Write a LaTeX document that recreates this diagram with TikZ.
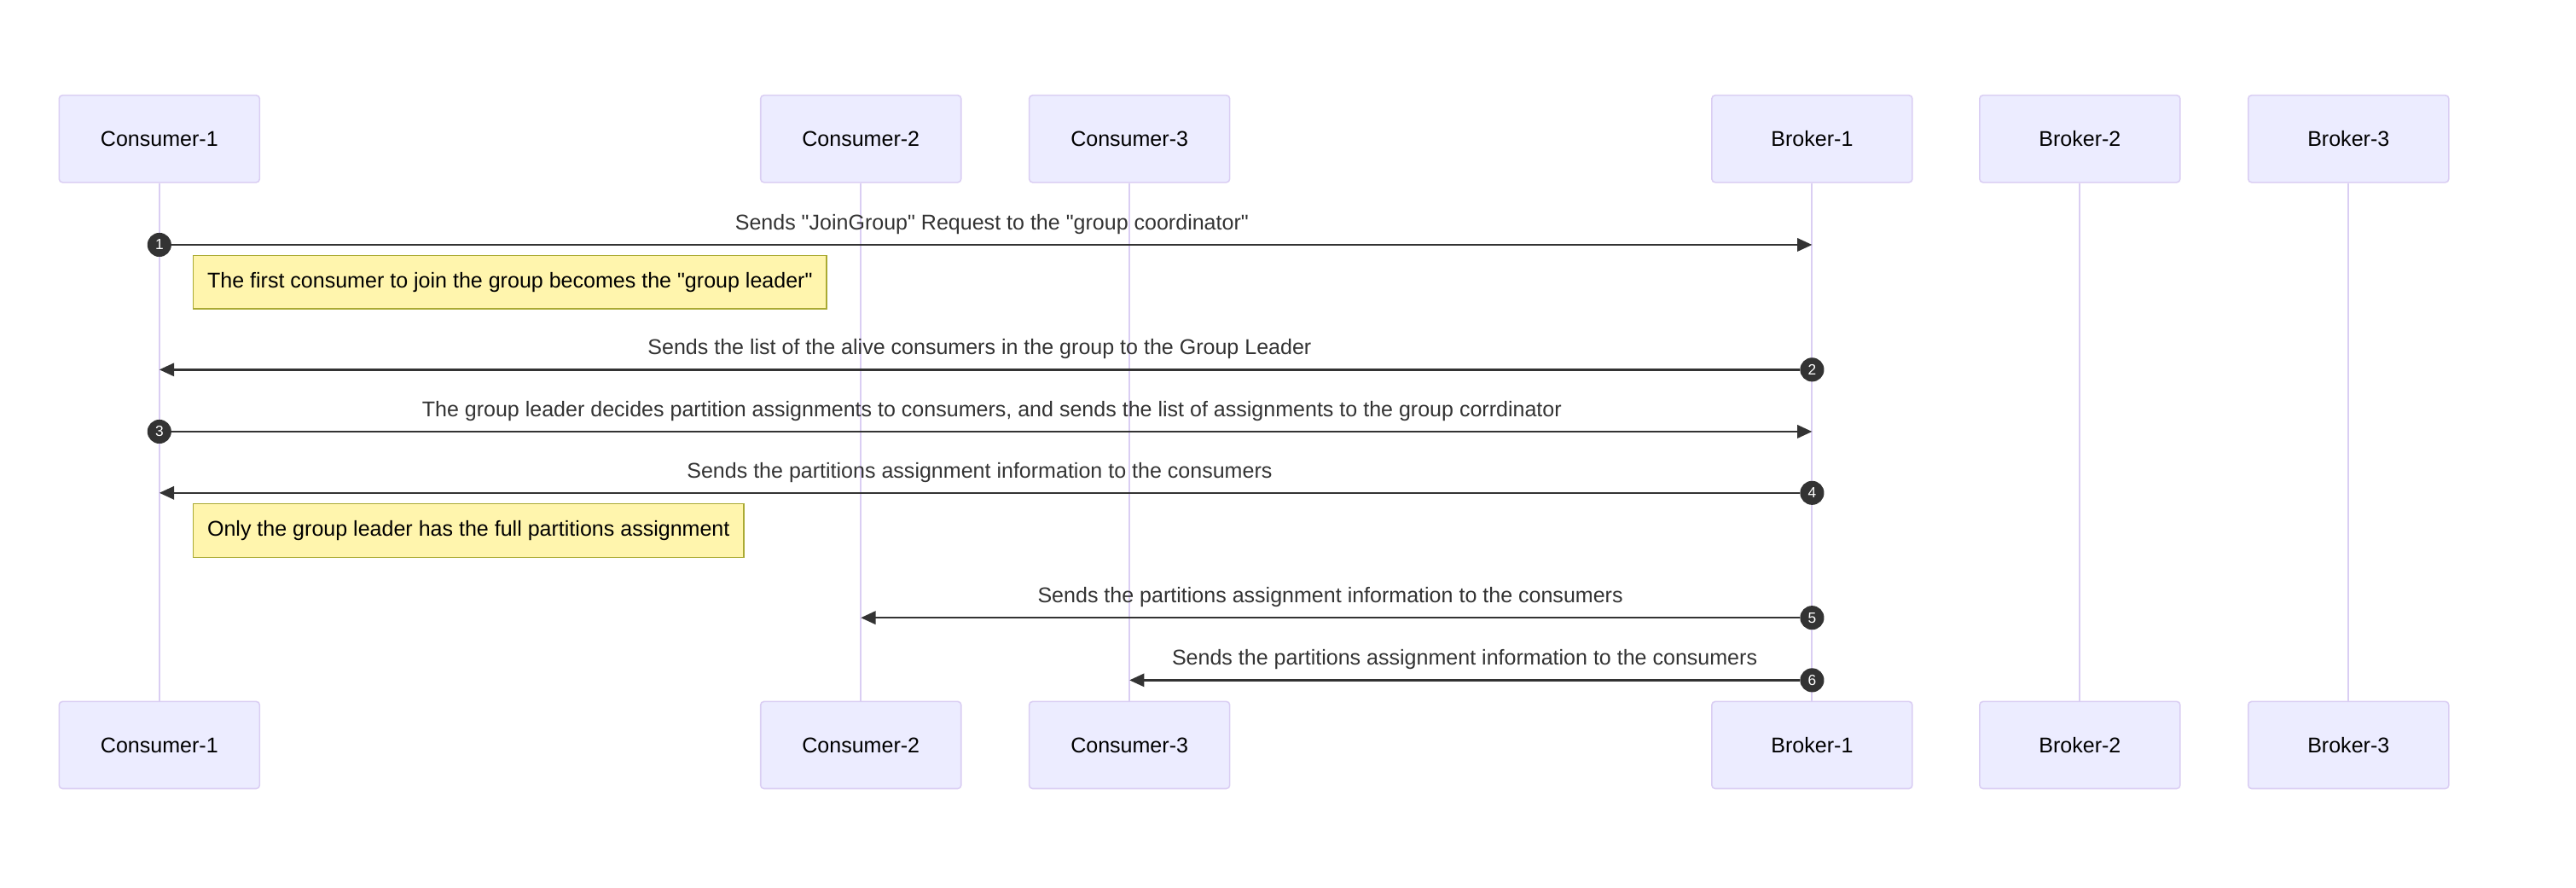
\documentclass[tikz,border=0pt]{standalone}
\usepackage{fontspec}
\setmainfont{Liberation Sans}[Ligatures=TeXOff]
\usetikzlibrary{arrows.meta}
\definecolor{actorfill}{HTML}{ECECFF}
\definecolor{actorline}{HTML}{DACEF3}
\definecolor{notefill}{HTML}{FFF5AD}
\definecolor{noteline}{HTML}{AAAA33}
\definecolor{signal}{HTML}{333333}

\begin{document}
\begin{tikzpicture}[x=1pt, y=1pt, font=\fontsize{13}{15}\selectfont,
	actor/.style={draw=actorline, fill=actorfill, line width=0.8pt, rounded corners=2pt, minimum width=122pt, minimum height=53pt, inner sep=0pt},
	life/.style={draw=actorline, line width=1pt},
	msg/.style={draw=signal, line width=1.2pt, -{Triangle[length=9pt,width=8pt]}},
	seqnum/.style={circle, fill=signal, text=white, minimum size=14.6pt, inner sep=0pt, font=\fontsize{9}{9}\selectfont},
	lbl/.style={text=signal, yshift=12.5pt},
	note/.style={draw=noteline, fill=notefill, line width=0.8pt, minimum height=32.6pt, inner xsep=8.5pt, anchor=west}]
			\useasboundingbox (0,0) rectangle (1568,-540);
			\node[actor] (c1t) at (97,-84.5) {Consumer-1};
			\node[actor] (c2t) at (524,-84.5) {Consumer-2};
			\node[actor] (c3t) at (687.5,-84.5) {Consumer-3};
			\node[actor] (b1t) at (1103,-84.5) {Broker-1};
			\node[actor] (b2t) at (1266,-84.5) {Broker-2};
			\node[actor] (b3t) at (1429.5,-84.5) {Broker-3};
			\node[actor] (c1b) at (97,-453.5) {Consumer-1};
			\node[actor] (c2b) at (524,-453.5) {Consumer-2};
			\node[actor] (c3b) at (687.5,-453.5) {Consumer-3};
			\node[actor] (b1b) at (1103,-453.5) {Broker-1};
			\node[actor] (b2b) at (1266,-453.5) {Broker-2};
			\node[actor] (b3b) at (1429.5,-453.5) {Broker-3};
			\draw[life] (c1t) -- (c1b);
			\draw[life] (c2t) -- (c2b);
			\draw[life] (c3t) -- (c3b);
			\draw[life] (b1t) -- (b1b);
			\draw[life] (b2t) -- (b2b);
			\draw[life] (b3t) -- (b3b);
			\node[seqnum] (n1) at (97,-149) {1};
			\node[seqnum] (n2) at (1103,-225) {2};
			\node[seqnum] (n3) at (97,-262.7) {3};
			\node[seqnum] (n4) at (1103,-300) {4};
			\node[seqnum] (n5) at (1103,-376) {5};
			\node[seqnum] (n6) at (1103,-414) {6};
			\draw[msg] (n1) -- (b1t |- n1) node[midway, lbl] {Sends "JoinGroup" Request to the "group coordinator"};
			\node[note] (nt1) at (117.3,-171.7) {The first consumer to join the group becomes the "group leader"};
			\draw[msg] (n2) -- (c1t |- n2) node[midway, lbl] {Sends the list of the alive consumers in the group to the Group Leader};
			\draw[msg] (n3) -- (b1t |- n3) node[midway, lbl] {The group leader decides partition assignments to consumers, and sends the list of assignments to the group corrdinator};
			\draw[msg] (n4) -- (c1t |- n4) node[midway, lbl] {Sends the partitions assignment information to the consumers};
			\node[note] (nt2) at (117.3,-323) {Only the group leader has the full partitions assignment};
			\draw[msg] (n5) -- (c2t |- n5) node[midway, lbl] {Sends the partitions assignment information to the consumers};
			\draw[msg] (n6) -- (c3t |- n6) node[midway, lbl] {Sends the partitions assignment information to the consumers};
\end{tikzpicture}
\end{document}
